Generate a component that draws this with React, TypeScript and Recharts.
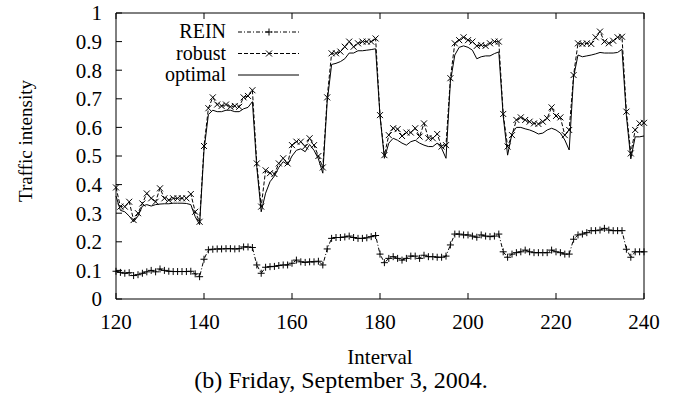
import React from 'react';
import { LineChart, Line, XAxis, YAxis, Legend, Label } from 'recharts';

const intervals = [
  120, 121, 122, 123, 124, 125, 126, 127, 128, 129, 130, 131, 132, 133, 134, 135, 136, 137, 138, 139,
  140, 141, 142, 143, 144, 145, 146, 147, 148, 149, 150, 151, 152, 153, 154, 155, 156, 157, 158, 159,
  160, 161, 162, 163, 164, 165, 166, 167, 168, 169, 170, 171, 172, 173, 174, 175, 176, 177, 178, 179,
  180, 181, 182, 183, 184, 185, 186, 187, 188, 189, 190, 191, 192, 193, 194, 195, 196, 197, 198, 199,
  200, 201, 202, 203, 204, 205, 206, 207, 208, 209, 210, 211, 212, 213, 214, 215, 216, 217, 218, 219,
  220, 221, 222, 223, 224, 225, 226, 227, 228, 229, 230, 231, 232, 233, 234, 235, 236, 237, 238, 239,
  240,
];

const rein = [
  0.097, 0.093, 0.090, 0.092, 0.082, 0.085, 0.090, 0.095, 0.100, 0.095, 0.105, 0.100, 0.097, 0.096, 0.096, 0.096, 0.096, 0.097, 0.088, 0.078,
  0.139, 0.172, 0.174, 0.175, 0.175, 0.176, 0.176, 0.175, 0.176, 0.182, 0.182, 0.180, 0.119, 0.090, 0.111, 0.113, 0.114, 0.117, 0.119, 0.119,
  0.125, 0.136, 0.130, 0.128, 0.130, 0.130, 0.132, 0.119, 0.175, 0.212, 0.215, 0.215, 0.217, 0.220, 0.215, 0.212, 0.212, 0.214, 0.218, 0.222,
  0.157, 0.127, 0.142, 0.148, 0.142, 0.136, 0.142, 0.150, 0.150, 0.142, 0.153, 0.148, 0.148, 0.146, 0.146, 0.150, 0.189, 0.227, 0.227, 0.224,
  0.224, 0.220, 0.216, 0.224, 0.220, 0.218, 0.220, 0.227, 0.165, 0.146, 0.157, 0.162, 0.165, 0.171, 0.165, 0.162, 0.162, 0.162, 0.162, 0.171,
  0.165, 0.162, 0.157, 0.157, 0.209, 0.224, 0.227, 0.232, 0.239, 0.239, 0.241, 0.247, 0.241, 0.239, 0.239, 0.239, 0.174, 0.146, 0.165, 0.165,
  0.165,
];

const robust = [
  0.390, 0.323, 0.323, 0.340, 0.276, 0.300, 0.334, 0.369, 0.352, 0.340, 0.387, 0.352, 0.346, 0.352, 0.352, 0.352, 0.352, 0.367, 0.305, 0.270,
  0.535, 0.667, 0.705, 0.680, 0.675, 0.680, 0.672, 0.675, 0.672, 0.705, 0.710, 0.730, 0.474, 0.323, 0.450, 0.440, 0.437, 0.474, 0.492, 0.474,
  0.538, 0.550, 0.550, 0.533, 0.562, 0.538, 0.500, 0.460, 0.705, 0.859, 0.859, 0.865, 0.882, 0.900, 0.882, 0.894, 0.900, 0.900, 0.900, 0.911,
  0.643, 0.503, 0.573, 0.597, 0.594, 0.570, 0.582, 0.582, 0.597, 0.568, 0.614, 0.562, 0.562, 0.577, 0.533, 0.538, 0.772, 0.894, 0.905, 0.915,
  0.905, 0.900, 0.885, 0.888, 0.885, 0.894, 0.900, 0.900, 0.647, 0.533, 0.573, 0.626, 0.635, 0.626, 0.620, 0.614, 0.612, 0.620, 0.632, 0.670,
  0.640, 0.635, 0.573, 0.591, 0.783, 0.894, 0.892, 0.894, 0.892, 0.915, 0.935, 0.900, 0.894, 0.903, 0.915, 0.917, 0.655, 0.509, 0.591, 0.614,
  0.616,
];

const optimal = [
  0.360, 0.310, 0.305, 0.290, 0.270, 0.290, 0.325, 0.330, 0.325, 0.330, 0.332, 0.333, 0.333, 0.335, 0.335, 0.335, 0.334, 0.330, 0.288, 0.260,
  0.520, 0.645, 0.660, 0.655, 0.655, 0.660, 0.660, 0.655, 0.655, 0.665, 0.670, 0.690, 0.460, 0.305, 0.370, 0.410, 0.430, 0.460, 0.480, 0.470,
  0.500, 0.520, 0.525, 0.515, 0.540, 0.520, 0.490, 0.440, 0.690, 0.820, 0.824, 0.830, 0.840, 0.860, 0.860, 0.868, 0.868, 0.870, 0.872, 0.875,
  0.640, 0.492, 0.545, 0.562, 0.555, 0.545, 0.538, 0.550, 0.555, 0.545, 0.538, 0.533, 0.533, 0.545, 0.527, 0.492, 0.760, 0.853, 0.880, 0.885,
  0.880, 0.870, 0.840, 0.847, 0.850, 0.850, 0.858, 0.864, 0.640, 0.503, 0.579, 0.600, 0.600, 0.595, 0.591, 0.585, 0.577, 0.580, 0.591, 0.597,
  0.591, 0.580, 0.556, 0.521, 0.777, 0.853, 0.847, 0.850, 0.853, 0.857, 0.862, 0.860, 0.860, 0.860, 0.862, 0.873, 0.640, 0.490, 0.567, 0.567,
  0.570,
];

const seriesNames = ['REIN', 'robust', 'optimal'];
const xTicks = [120, 140, 160, 180, 200, 220, 240];
const yTicks = [0, 0.1, 0.2, 0.3, 0.4, 0.5, 0.6, 0.7, 0.8, 0.9, 1];

const data = intervals.map((x, i) => ({ x, rein: rein[i], robust: robust[i], optimal: optimal[i] }));

const FONT = "'Liberation Serif', serif";

const plusPath = (cx: number, cy: number) => `M${cx - 3.5},${cy}h7M${cx},${cy - 3.5}v7`;
const crossPath = (cx: number, cy: number) => `M${cx - 3},${cy - 3}l6,6M${cx - 3},${cy + 3}l6,-6`;

const PlusDot = (props: any) => {
  const { cx, cy, index } = props;
  if (cx == null || cy == null) return <g key={`p${index}`} />;
  return <path key={`p${index}`} d={plusPath(cx, cy)} stroke="#000" strokeWidth={1} fill="none" />;
};

const CrossDot = (props: any) => {
  const { cx, cy, index } = props;
  if (cx == null || cy == null) return <g key={`c${index}`} />;
  return <path key={`c${index}`} d={crossPath(cx, cy)} stroke="#000" strokeWidth={1} fill="none" />;
};

const seriesStyle: Record<string, { dash?: string; marker?: 'plus' | 'cross' }> = {
  REIN: { dash: '4 2 1 2', marker: 'plus' },
  robust: { dash: '4 2', marker: 'cross' },
  optimal: {},
};

const LegendContent = (props: any) => {
  const payload = props.payload || [];
  const names = seriesNames.filter((n) => payload.some((e: any) => e.value === n));
  return (
    <svg width={220} height={70} style={{ display: 'block', overflow: 'visible' }}>
      {names.map((name: string, i: number) => {
        const st = seriesStyle[name] || {};
        const y = 12 + i * 21.5;
        return (
          <g key={name}>
            <text x={126} y={y + 6} textAnchor="end" style={{ fontFamily: FONT, fontSize: 20 }} fill="#000">
              {name}
            </text>
            <line x1={138} x2={199} y1={y} y2={y} stroke="#000" strokeWidth={1} strokeDasharray={st.dash} />
            {st.marker === 'plus' && <path d={plusPath(169, y)} stroke="#000" fill="none" />}
            {st.marker === 'cross' && <path d={crossPath(169, y)} stroke="#000" fill="none" />}
          </g>
        );
      })}
    </svg>
  );
};

const tickStyle = { fontFamily: FONT, fontSize: 21, fill: '#000' };
const fmtY = (v: number) => String(Math.round(v * 10) / 10);

export default function App() {
  return (
    <div style={{ position: 'absolute', left: 0, top: 0, width: 673, height: 394, background: '#fff', fontFamily: FONT }}>
      <LineChart width={673} height={394} data={data} margin={{ top: 0, right: 0, bottom: 0, left: 0 }}>
        <XAxis
          dataKey="x"
          type="number"
          domain={[120, 240]}
          ticks={xTicks}
          interval={0}
          height={95}
          tickSize={-6}
          tickMargin={21}
          tick={tickStyle}
          stroke="#000"
          axisLine={{ stroke: '#000', strokeWidth: 1 }}
          tickLine={{ stroke: '#000' }}
        >
          <Label
            content={(p: any) => {
              const vb = p.viewBox || { x: 116, y: 299, width: 528 };
              return (
                <g>
                  <text x={vb.x + vb.width / 2} y={vb.y + 65} textAnchor="middle" style={{ fontFamily: FONT, fontSize: 21 }} fill="#000">
                    Interval
                  </text>
                  <text x={341} y={vb.y + 89} textAnchor="middle" style={{ fontFamily: FONT, fontSize: 24 }} fill="#000">
                    (b) Friday, September 3, 2004.
                  </text>
                </g>
              );
            }}
          />
        </XAxis>
        <XAxis
          xAxisId="top"
          orientation="top"
          dataKey="x"
          type="number"
          domain={[120, 240]}
          ticks={xTicks}
          interval={0}
          height={13}
          tickSize={-6}
          tickFormatter={() => ''}
          stroke="#000"
        />
        <YAxis
          type="number"
          domain={[0, 1]}
          ticks={yTicks}
          interval={0}
          width={116}
          tickSize={-6}
          tickMargin={20}
          tick={tickStyle}
          tickFormatter={fmtY}
          stroke="#000"
        >
          <Label
            content={() => (
              <text
                x={25}
                y={141}
                transform="rotate(-90, 25, 141)"
                textAnchor="middle"
                dominantBaseline="central"
                style={{ fontFamily: FONT, fontSize: 19 }}
                fill="#000"
              >
                Traffic intensity
              </text>
            )}
          />
        </YAxis>
        <YAxis
          yAxisId="r"
          orientation="right"
          type="number"
          domain={[0, 1]}
          ticks={yTicks}
          interval={0}
          width={29}
          tickSize={-6}
          tickFormatter={() => ''}
          stroke="#000"
        />
        <Legend
          layout="horizontal"
          verticalAlign="middle"
          align="center"
          wrapperStyle={{ left: 100, top: 20, width: 220, height: 70 }}
          content={<LegendContent />}
        />
        <Line
          dataKey="rein"
          name="REIN"
          stroke="#000"
          strokeWidth={1}
          strokeDasharray="4 2 1 2"
          dot={PlusDot}
          activeDot={false}
          isAnimationActive={false}
        />
        <Line
          dataKey="robust"
          name="robust"
          stroke="#000"
          strokeWidth={1}
          strokeDasharray="4 2"
          dot={CrossDot}
          activeDot={false}
          isAnimationActive={false}
        />
        <Line
          dataKey="optimal"
          name="optimal"
          stroke="#000"
          strokeWidth={1}
          dot={false}
          activeDot={false}
          isAnimationActive={false}
        />
      </LineChart>
    </div>
  );
}
